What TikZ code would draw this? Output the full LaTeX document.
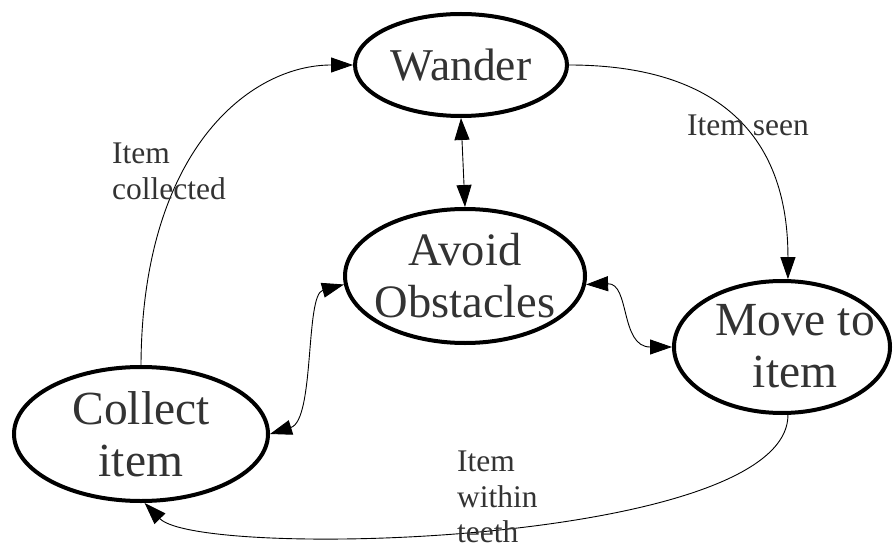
\documentclass[tikz,border=0pt]{standalone}
\usepackage{fontspec}
\setmainfont{Liberation Serif}
\usetikzlibrary{arrows.meta,shapes.geometric}
\begin{document}
\begin{tikzpicture}[x=1pt,y=-1pt,
  state/.style={draw, ellipse, line width=4pt, inner sep=0pt, align=center, text=black!80},
  nfont/.style={font=\fontsize{#1}{52}\selectfont},
  lbl/.style={text=black!80, font=\fontsize{31.5}{35.5}\selectfont, inner sep=0pt, align=left},
  link/.style={line width=0.9pt, -{Triangle[length=22pt,width=15pt]}},
  link2/.style={line width=0.9pt, {Triangle[length=22pt,width=15pt]}-{Triangle[length=22pt,width=15pt]}}]
\useasboundingbox (0,0) rectangle (893,545);
\node[state, nfont=45.5, minimum width=212pt, minimum height=102pt] (wander) at (461,65) {Wander};
\node[state, nfont=46.5, inner xsep=-25pt, minimum width=240pt, minimum height=134pt] (avoid) at (465,276) {Avoid\\Obstacles};
\node[state, minimum width=216pt, minimum height=132pt] (move) at (782,347) {};
\node[text=black!80, nfont=47.5, align=center, inner sep=0pt] (movetext) at (795,346) {Move to\\item};
\node[state, nfont=47.5, minimum width=254pt, minimum height=134pt] (collect) at (141,434) {Collect\\item};
\draw[link] (collect.north) .. controls (142,150) and (250,65) .. (wander.west);
\draw[link] (wander.east) .. controls (700,65) and (788,120) .. (move.85);
\draw[link2] (wander.south) -- (avoid.north);
\draw[link2] (avoid.-4) .. controls (630,283) and (620,347) .. (move.west);
\draw[link2] (avoid.184) .. controls (305,295) and (315,420) .. (collect.east);
\draw[link] (move.-85) .. controls (788,545) and (200,560) .. (collect.-87);
\node[lbl, anchor=base west] (lseen) at (687,136) {Item seen};
\node[lbl, anchor=north west] (lcoll) at (112,143) {Item\\collected};
\node[lbl, anchor=north west] (lteeth) at (457,451) {Item\\within\\teeth};
\end{tikzpicture}
\end{document}
